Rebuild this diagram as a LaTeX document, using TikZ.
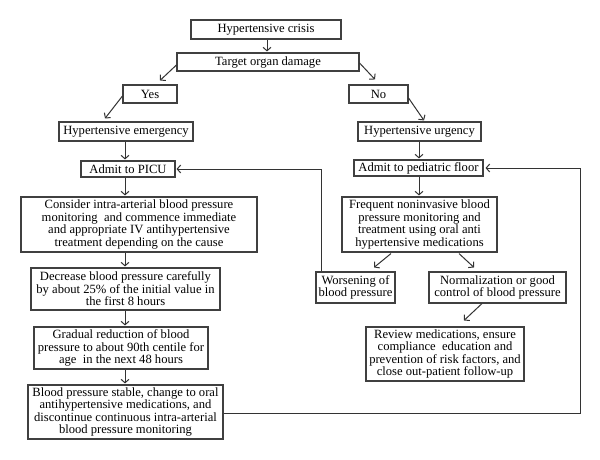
\documentclass[tikz,border=0pt]{standalone}
\usepackage{fontspec}
\setmainfont{Liberation Serif}
\usetikzlibrary{arrows.meta,calc}
\begin{document}
\begin{tikzpicture}[x=1pt,y=-1pt,
  box/.style={draw=black!75, line width=1.1pt, inner sep=0pt, align=center,
    font=\fontsize{12.6}{12.4}\selectfont, text=black},
  arr/.style={draw=black!80, line width=1pt, -{Straight Barb[length=3.5pt,width=8pt]}}]
\useasboundingbox (0,0) rectangle (600,460);
\fill[white] (0,0) rectangle (600,460);
\node[box, minimum width=150, minimum height=19] (crisis) at (266,29.5) {Hypertensive crisis};
\node[box, minimum width=182, minimum height=18] (target) at (268,62) {Target organ damage};
\node[box, minimum width=54, minimum height=18] (yes) at (150,94) {Yes};
\node[box, minimum width=59, minimum height=18] (no) at (378.5,94) {No};
\node[box, minimum width=134, minimum height=19] (emerg) at (126,131.5) {Hypertensive emergency};
\node[box, minimum width=123, minimum height=19] (urg) at (419.5,131.5) {Hypertensive urgency};
\node[box, minimum width=94, minimum height=16] (picu) at (128,169) {Admit to PICU};
\node[box, minimum width=129, minimum height=16] (floor) at (418.5,168) {Admit to pediatric floor};
\node[box, minimum width=236, minimum height=55] (consider) at (139,224.5) {Consider intra-arterial blood pressure\\monitoring\ \ and commence immediate\\and appropriate IV antihypertensive\\treatment depending on the cause};
\node[box, minimum width=189, minimum height=42] (decr) at (125.5,289) {Decrease blood pressure carefully\\by about 25\% of the initial value in\\the first 8 hours};
\node[box, minimum width=174, minimum height=42] (grad) at (121,348) {Gradual reduction of blood\\pressure to about 90th centile for\\age\ \ in the next 48 hours};
\node[box, minimum width=195, minimum height=54] (stable) at (125.5,412) {Blood pressure stable, change to oral\\antihypertensive medications, and\\discontinue continuous intra-arterial\\blood pressure monitoring};
\node[box, minimum width=155, minimum height=55] (freq) at (419.5,224.5) {Frequent noninvasive blood\\pressure monitoring and\\treatment using oral anti\\hypertensive medications};
\node[box, minimum width=79, minimum height=31] (worse) at (355.5,287.5) {Worsening of\\blood pressure};
\node[box, minimum width=137, minimum height=31] (normal) at (497.5,287.5) {Normalization or good\\control of blood pressure};
\node[box, minimum width=158, minimum height=54] (review) at (445,354) {Review medications, ensure\\compliance\ \ education and\\prevention of risk factors, and\\close out-patient follow-up};
\coordinate (colL) at (125,0);
\coordinate (colR) at (419,0);
\coordinate (rt) at (580,0);
% vertical arrows
\draw[arr] (crisis.south -| 267,0) -- ($(target.north -| 267,0)+(0,-1)$);
\draw[arr] (emerg.south -| colL) -- ($(picu.north -| colL)+(0,-1)$);
\draw[arr] (picu.south -| colL) -- ($(consider.north -| colL)+(0,-1)$);
\draw[arr] (consider.south -| colL) -- ($(decr.north -| colL)+(0,-1)$);
\draw[arr] (decr.south -| colL) -- ($(grad.north -| colL)+(0,-1)$);
\draw[arr] (grad.south -| colL) -- ($(stable.north -| colL)+(0,-1)$);
\draw[arr] (urg.south -| colR) -- ($(floor.north -| colR)+(0,-1)$);
\draw[arr] (floor.south -| colR) -- ($(freq.north -| colR)+(0,-1)$);
% diagonal arrows
\draw[arr] ($(target.west)+(0,3)$) -- ($(yes.north)+(10,-4)$);
\draw[arr] ($(yes.west)+(0,2)$) -- ($(emerg.north)+(-21,-3)$);
\draw[arr] ($(target.east)+(0,1)$) -- ($(no.north)+(-3.5,-5)$);
\draw[arr] ($(no.east)+(0,4)$) -- ($(urg.north)+(4.5,-1)$);
\draw[arr] ($(freq.south)+(-28.5,1)$) -- ($(worse.north)+(18.5,-4)$);
\draw[arr] ($(freq.south)+(39.5,1)$) -- ($(normal.north)+(-23.5,-4)$);
\draw[arr] ($(normal.south)+(-15.5,0)$) -- ($(review.north)+(19,-6)$);
% loops
\draw[arr] ($(worse.north west)+(6,0)$) |- ($(picu.east)+(1,0)$);
\draw[arr] ($(stable.east)+(0,1)$) -| (rt |- floor.east) -- ($(floor.east)+(2,0)$);
\end{tikzpicture}
\end{document}
